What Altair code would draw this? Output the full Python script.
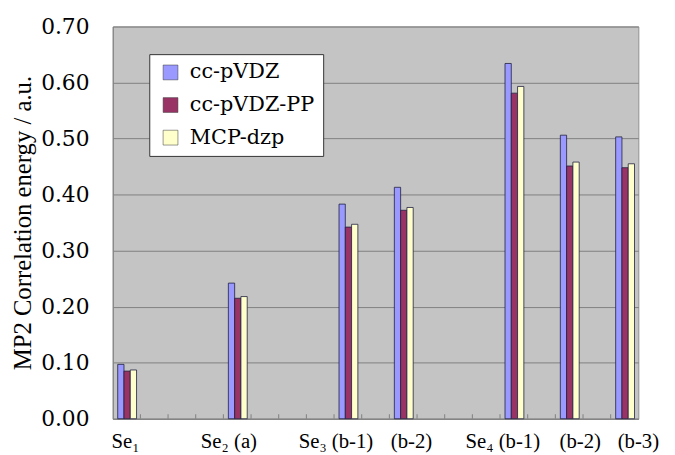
import altair as alt
import pandas as pd

# ---- data ----
groups = ["Se₁", "Se₂ (a)", "Se₃ (b-1)", "(b-2)", "Se₄ (b-1)", "(b-2) ", "(b-3)"]
slots = [0, 4, 8, 10, 14, 16, 18]          # category slot of each group (19 slots)
label_pos = [0.46, 4.2, 8.07, 10.8, 14.1, 16.9, 19.0]  # where the label text sits
series = ["cc-pVDZ", "cc-pVDZ-PP", "MCP-dzp"]
cc_pvdz = [0.097, 0.242, 0.383, 0.413, 0.634, 0.506, 0.503]
cc_pvdz_pp = [0.085, 0.215, 0.342, 0.372, 0.581, 0.451, 0.448]
mcp_dzp = [0.087, 0.218, 0.347, 0.377, 0.593, 0.458, 0.455]
colors = ["#9999FF", "#993366", "#FFFFCC"]
y_ticks = [0.0, 0.1, 0.2, 0.3, 0.4, 0.5, 0.6, 0.7]
tick_slots = list(range(1, 19))

rows = []
for si, (name, vals) in enumerate(zip(series, [cc_pvdz, cc_pvdz_pp, mcp_dzp])):
    for g, s, v in zip(groups, slots, vals):
        rows.append({"group": g, "slot": s, "series": name, "idx": si, "value": v})
bars_df = pd.DataFrame(rows)
labels_df = pd.DataFrame({"label": groups, "pos": label_pos})
ticks_df = pd.DataFrame({"t": tick_slots})

FONT = "Liberation Serif"
WIDE = "DejaVu Serif"
xscale = alt.Scale(domain=[0, 19], nice=False, zero=False)
yscale = alt.Scale(domain=[0, 0.7], nice=False)

bars = alt.Chart(bars_df).transform_calculate(
    x0="datum.slot + 0.18 + datum.idx * 0.227",
    x1="datum.slot + 0.18 + (datum.idx + 1) * 0.227",
).mark_bar(stroke="#202040", strokeWidth=0.8).encode(
    x=alt.X("x0:Q", scale=xscale, axis=alt.Axis(
        values=[], labels=False, ticks=False, grid=False, title=None,
        domainColor="#808080", domainWidth=1)),
    x2="x1:Q",
    y=alt.Y("value:Q", scale=yscale, axis=alt.Axis(
        values=y_ticks, format=".2f", ticks=False, grid=True,
        gridColor="#808080", gridWidth=1, domainColor="#808080",
        labelFont=WIDE, labelFontSize=22, labelColor="black", labelPadding=24,
        title="MP2 Correlation energy / a.u.", titleFont=FONT,
        titleFontSize=25, titleFontWeight="normal", titleColor="black",
        titlePadding=5)),
    y2=alt.datum(0),
    color=alt.Color("series:N", scale=alt.Scale(domain=series, range=colors),
                    legend=alt.Legend(
                        title=None, orient="none", legendX=37, legendY=28,
                        fillColor="white", strokeColor="#333333",
                        padding=8, labelFont=WIDE, labelFontSize=21,
                        labelColor="black", symbolType="square",
                        symbolSize=225, symbolStrokeColor="#333333",
                        symbolStrokeWidth=0.5, rowPadding=11,
                        symbolOffset=3, labelOffset=9, labelLimit=250)),
)

ticks = alt.Chart(ticks_df).mark_rule(color="#808080", strokeWidth=1).encode(
    x=alt.X("t:Q", scale=xscale),
    y=alt.datum(0),
    y2=alt.datum(0.008),
)

labels = alt.Chart(labels_df).mark_text(
    font=FONT, fontSize=21, color="black", baseline="middle", align="center"
).encode(
    x=alt.X("pos:Q", scale=xscale),
    y=alt.value(421),
    text="label:N",
)

chart = alt.layer(bars, ticks, labels).properties(
    width=532, height=397,
    padding={"left": 106, "top": 16, "right": 29, "bottom": 34},
    autosize=alt.AutoSizeParams(type="none"),
).configure_view(
    fill="#C4C4C4", stroke="#909090", strokeWidth=1
)

chart.save("out.html", embed_options={"renderer": "svg", "actions": False})
